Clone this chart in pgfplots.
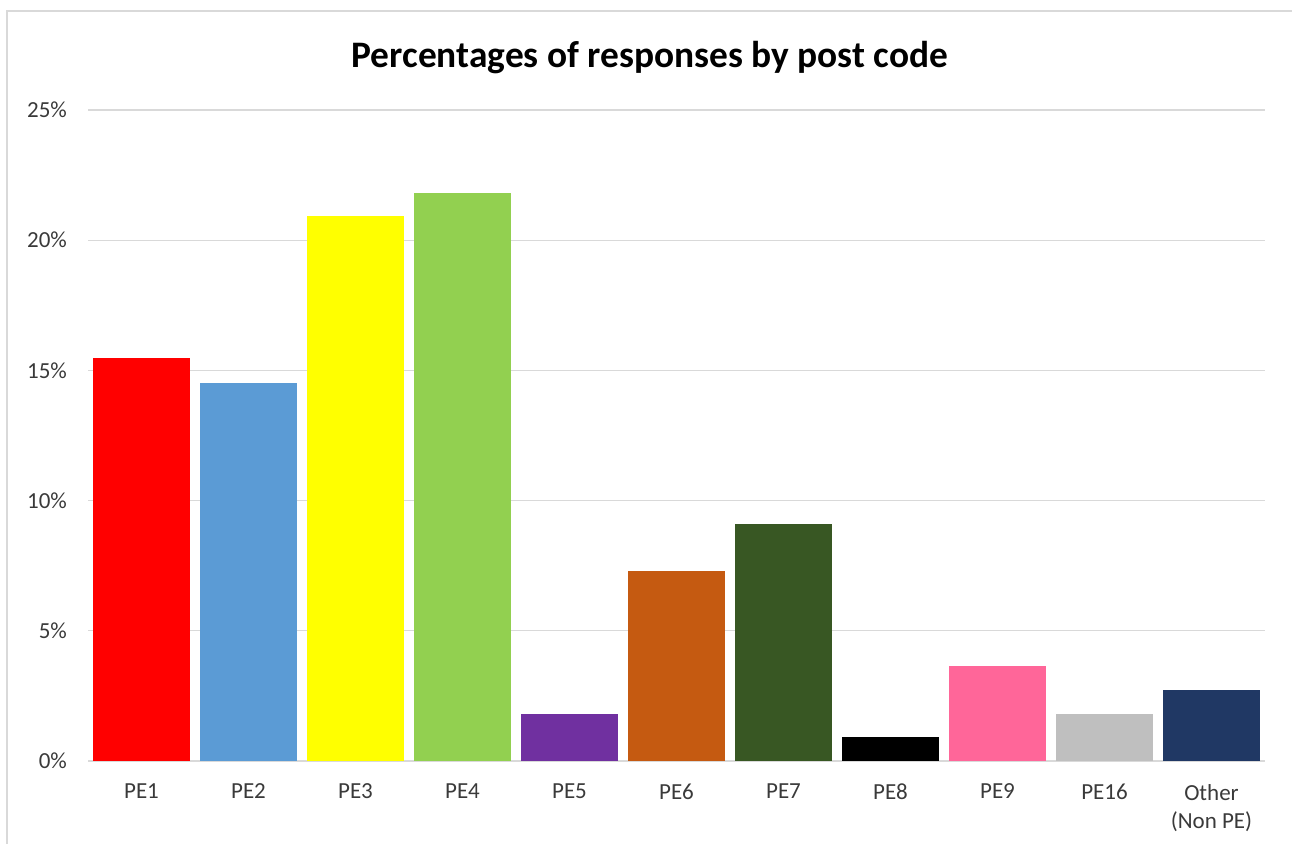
\documentclass[border=0pt]{standalone}
\usepackage{pgfplots}
\pgfplotsset{compat=1.18}
\usepackage{fontspec}
\setmainfont{Carlito}
\definecolor{c1}{HTML}{FF0000}
\definecolor{c2}{HTML}{5B9BD5}
\definecolor{c3}{HTML}{FFFF00}
\definecolor{c4}{HTML}{92D050}
\definecolor{c5}{HTML}{7030A0}
\definecolor{c6}{HTML}{C55A11}
\definecolor{c7}{HTML}{385723}
\definecolor{c8}{HTML}{000000}
\definecolor{c9}{HTML}{FF6699}
\definecolor{c10}{HTML}{BFBFBF}
\definecolor{c11}{HTML}{203864}
\definecolor{gridc}{HTML}{D9D9D9}
\definecolor{txt}{HTML}{3A3A3A}
\begin{document}
\begin{tikzpicture}[x=0.5pt,y=0.5pt]
\useasboundingbox (0,0) rectangle (1292,844);
\begin{scope}
\clip (0,0) rectangle (1292,844);
\draw[color=gridc,line width=1.2pt] (7,-5) -- (7,833) -- (1300,833);
\end{scope}
\node[font=\bfseries\fontsize{18.7}{22}\selectfont,anchor=center] at (650,786) {Percentages of responses by post code};
\begin{axis}[
  at={(44pt,41.5pt)}, anchor=south west,
  scale only axis,
  width=588.5pt, height=325.5pt,
  xmin=-0.5, xmax=10.5,
  ymin=0, ymax=25,
  ybar, bar width=48.5pt, bar shift=0pt,
  axis line style={draw=none},
  axis x line*=bottom,
  ytick={0,5,10,15,20,25},
  yticklabel={\pgfmathprintnumber{\tick}\%},
  /pgf/number format/assume math mode=true,
  ymajorgrids, grid style={color=gridc,line width=0.6pt},
  xtick={0,...,10},
  xticklabels={PE1,PE2,PE3,PE4,PE5,PE6,PE7,PE8,PE9,PE16,{Other\\(Non PE)}},
  xticklabel style={align=center,font=\fontsize{11.5}{14}\selectfont,text=txt},
  yticklabel style={font=\fontsize{11.5}{14}\selectfont,text=txt},
  major tick length=0pt,
  xticklabel shift=8pt,
  yticklabel shift=7pt,
  clip=false,
]
\draw[color=gridc,line width=0.8pt] (axis cs:-0.5,0) -- (axis cs:10.5,0);
\addplot[fill=c1,draw=none] coordinates {(0,15.48)};
\addplot[fill=c2,draw=none] coordinates {(1,14.52)};
\addplot[fill=c3,draw=none] coordinates {(2,20.93)};
\addplot[fill=c4,draw=none] coordinates {(3,21.81)};
\addplot[fill=c5,draw=none] coordinates {(4,1.80)};
\addplot[fill=c6,draw=none] coordinates {(5,7.30)};
\addplot[fill=c7,draw=none] coordinates {(6,9.10)};
\addplot[fill=c8,draw=none] coordinates {(7,0.92)};
\addplot[fill=c9,draw=none] coordinates {(8,3.65)};
\addplot[fill=c10,draw=none] coordinates {(9,1.80)};
\addplot[fill=c11,draw=none] coordinates {(10,2.73)};
\end{axis}
\end{tikzpicture}
\end{document}
